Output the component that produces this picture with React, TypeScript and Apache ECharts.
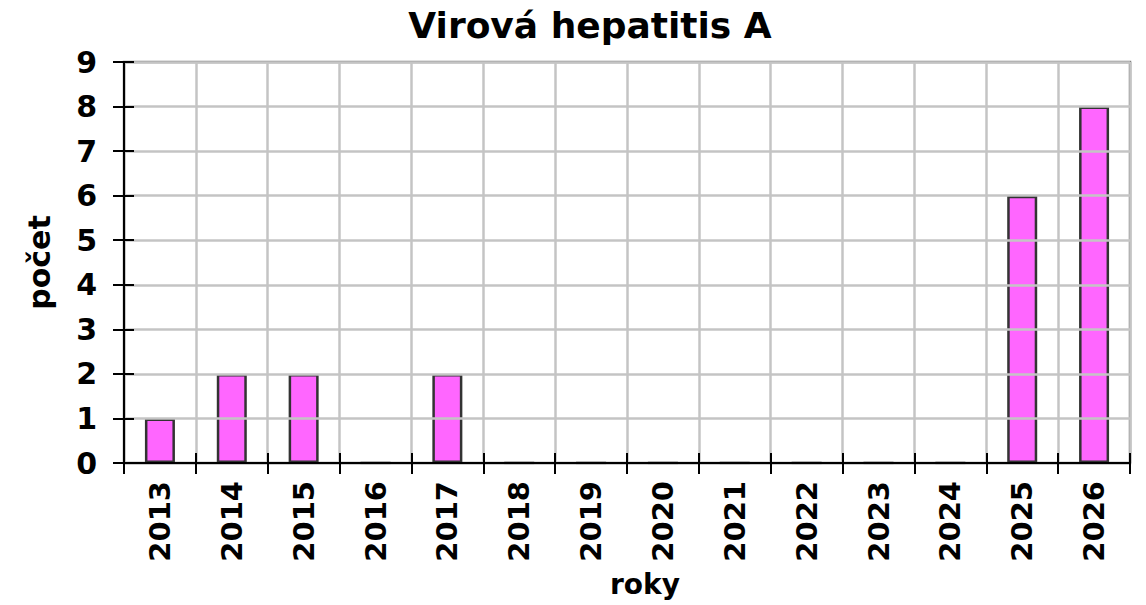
import React, { useEffect, useRef } from "react";
import * as echarts from "echarts";

const categories = ["2013", "2014", "2015", "2016", "2017", "2018", "2019", "2020", "2021", "2022", "2023", "2024", "2025", "2026"];
const values = [1, 2, 2, 0, 2, 0, 0, 0, 0, 0, 0, 0, 6, 8];
const titleText = "Virová hepatitis A";
const yAxisName = "počet";
const xAxisName = "roky";

const FONT = '"DejaVu Sans", "Liberation Sans", Arial, sans-serif';

export default function App() {
  const ref = useRef<HTMLDivElement>(null);
  useEffect(() => {
    if (!ref.current) return;
    const chart = echarts.init(ref.current, undefined, { renderer: "svg" });
    chart.setOption({
      animation: false,
      backgroundColor: "#ffffff",
      grid: {
        left: 124,
        right: 16,
        top: 62,
        bottom: 142,
        show: true,
        borderColor: "#808080",
        borderWidth: 2.5,
        backgroundColor: "transparent",
      },
      graphic: [
        {
          type: "text",
          x: 590,
          y: 25,
          style: {
            text: titleText,
            fontSize: 36,
            fontWeight: "bold",
            fontFamily: FONT,
            fill: "#000",
            align: "center",
            verticalAlign: "middle",
            textAlign: "center",
            textVerticalAlign: "middle",
          },
        },
        {
          type: "text",
          x: 645,
          y: 584,
          style: {
            text: xAxisName,
            fontSize: 28,
            fontWeight: "bold",
            fontFamily: FONT,
            fill: "#000",
            align: "center",
            verticalAlign: "middle",
            textAlign: "center",
            textVerticalAlign: "middle",
          },
        },
      ],
      xAxis: [
        {
          type: "category",
          data: categories,
          boundaryGap: true,
          axisLine: { show: true, lineStyle: { color: "#000", width: 2 } },
          axisTick: { show: true, alignWithLabel: false, length: 11, lineStyle: { color: "#000", width: 2 } },
          axisLabel: {
            rotate: 90,
            margin: 18,
            interval: 0,
            color: "#000",
            fontSize: 29,
            fontWeight: "bold",
            fontFamily: FONT,
          },
          splitLine: { show: true, interval: 0, lineStyle: { color: "#c4c4c4", width: 2.5 } },
          z: 5,
        },
        {
          type: "category",
          data: categories,
          position: "bottom",
          boundaryGap: true,
          axisLine: { show: false },
          axisTick: { show: true, inside: true, length: 10, lineStyle: { color: "#000", width: 2 } },
          axisLabel: { show: false },
          splitLine: { show: false },
          z: 6,
        },
      ],
      yAxis: [
        {
          type: "value",
          min: 0,
          max: 9,
          interval: 1,
          name: yAxisName,
          nameLocation: "middle",
          nameRotate: 90,
          nameGap: 70,
          nameTextStyle: { color: "#000", fontSize: 30, fontWeight: "bold", fontFamily: FONT },
          axisLine: { show: true, lineStyle: { color: "#000", width: 2 } },
          axisTick: { show: true, length: 11, lineStyle: { color: "#000", width: 2 } },
          axisLabel: { margin: 27, color: "#000", fontSize: 30, fontWeight: "bold", fontFamily: FONT },
          splitLine: { show: true, lineStyle: { color: "#c4c4c4", width: 2.5 } },
          z: 5,
        },
        {
          type: "value",
          min: 0,
          max: 9,
          interval: 1,
          position: "left",
          axisLine: { show: false },
          axisTick: { show: true, inside: true, length: 10, lineStyle: { color: "#000", width: 2 } },
          axisLabel: { show: false },
          splitLine: { show: false },
          z: 6,
        },
      ],
      series: [
        {
          type: "bar",
          data: values,
          xAxisIndex: 0,
          yAxisIndex: 0,
          barWidth: 30,
          itemStyle: { color: "#ff66ff", borderColor: "#333333", borderWidth: 2.5 },
          z: 3,
        },
      ],
    });
    return () => chart.dispose();
  }, []);
  return <div ref={ref} style={{ width: 1146, height: 605, position: "absolute", left: 0, top: 0 }} />;
}
